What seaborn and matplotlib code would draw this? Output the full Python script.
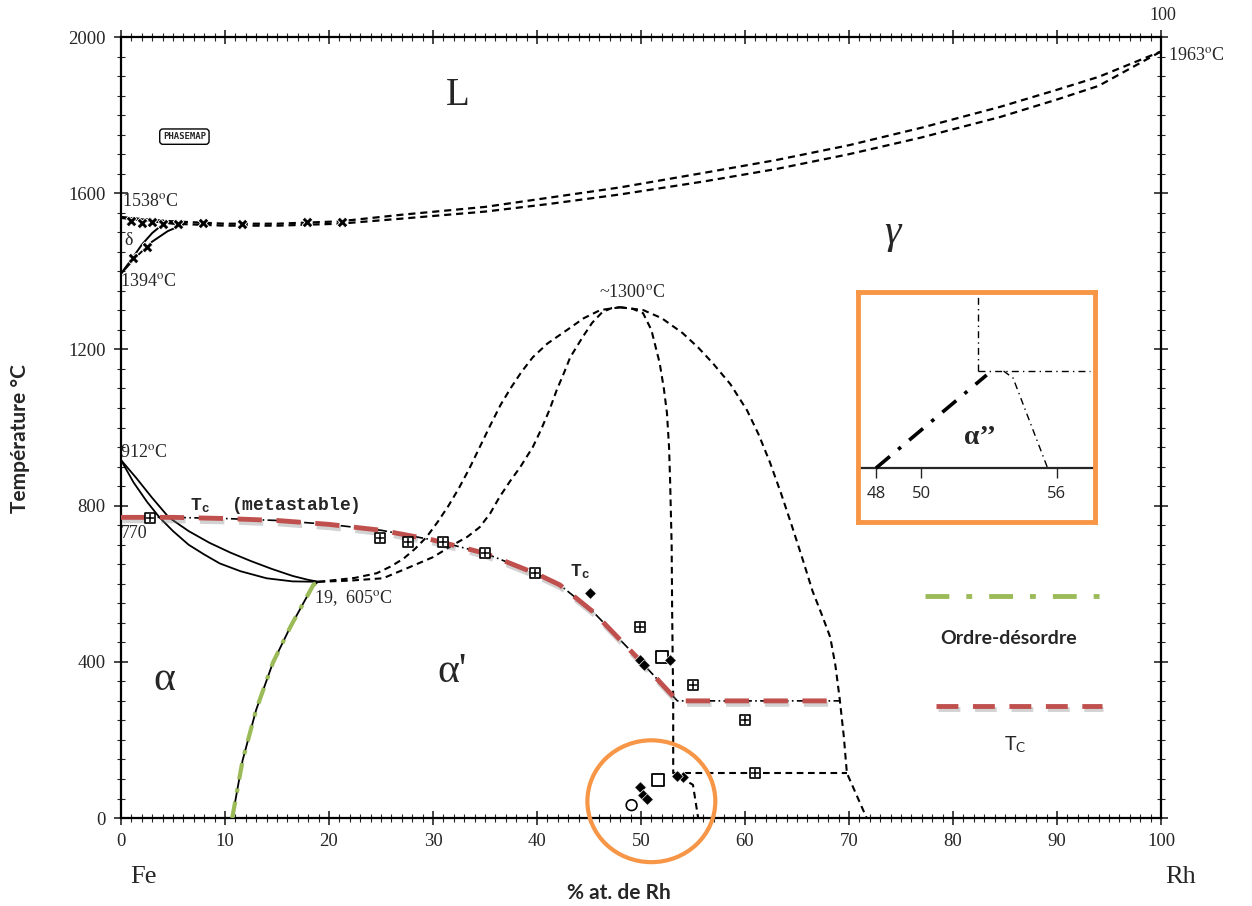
import matplotlib.pyplot as plt
import matplotlib.patheffects as pe
from matplotlib.patches import Ellipse
from matplotlib.ticker import MultipleLocator
import seaborn as sns

# Fe-Rh phase diagram, x = % at. Rh, y = temperature (°C)
liq_x = [0, 5, 10, 15, 21, 27, 35, 41, 48, 56, 63, 70, 77, 84.5, 90, 94, 100]
liq_y = [1538, 1528, 1522, 1522, 1528, 1545, 1565, 1588, 1615, 1652, 1685, 1723, 1768, 1821, 1865, 1898, 1963]
sol_y = [1538, 1522, 1517, 1517, 1522, 1535, 1553, 1572, 1597, 1630, 1662, 1700, 1743, 1795, 1840, 1875, 1963]

delta_top_x = [0, 2, 4, 6]
delta_top_y = [1538, 1532, 1527, 1524]
delta1_x = [0, 1, 2, 3, 4]
delta1_y = [1394, 1430, 1468, 1498, 1520]
delta2_x = [0, 1.5, 3, 4.5, 6]
delta2_y = [1394, 1438, 1476, 1503, 1520]

ag_up_x = [0, 1.5, 3, 4.6, 6.5, 8.5, 10.5, 12.5, 14.5, 16.5, 18, 19]
ag_up_y = [917, 870, 820, 770, 735, 705, 680, 658, 638, 620, 610, 605]
ag_lo_x = [0, 1.2, 2.5, 3.7, 5, 6.5, 8, 9.5, 11.5, 14, 16.5, 19]
ag_lo_y = [917, 860, 810, 770, 735, 700, 675, 652, 632, 614, 606, 605]

dome_out_x = [19, 20.4, 22.5, 24.6, 26, 27.2, 28.3, 29.4, 30.5, 31.5, 32.5, 33.5, 34.5, 35.5,
              36.5, 37.5, 38.5, 39.6, 41, 42.9, 44.5, 46.1, 48]
dome_out_y = [605, 609, 615, 627, 645, 665, 690, 720, 760, 800, 845, 895, 950, 1005,
              1058, 1102, 1142, 1180, 1215, 1250, 1280, 1301, 1308]
dome_in_x = [19, 22, 25.2, 27.8, 30, 31.9, 33.3, 34.5, 35.5, 36.4, 37.4, 38.4, 39.6, 40.4,
             41.2, 41.9, 42.6, 43.2, 44.4, 45.3, 46.3, 47.2, 48]
dome_in_y = [605, 608, 614, 643, 668, 699, 720, 745, 780, 822, 862, 899, 950, 995,
             1045, 1096, 1140, 1180, 1232, 1268, 1296, 1306, 1308]
right_in_x = [48, 49.2, 50.2, 51, 51.8, 52.2, 52.5, 52.7, 52.8, 52.95, 53.0, 53.1, 53.1, 55.0, 55.5]
right_in_y = [1308, 1304, 1293, 1250, 1165, 1100, 1037, 950, 866, 700, 525, 300, 115, 85, 0]
right_out_x = [48, 50.2, 52, 54, 55.5, 56.9, 58.6, 60.2, 61.3, 62.4, 63.5, 64.6, 65.6, 66.5,
               67.4, 68.2, 68.7, 69.1, 69.5, 69.8, 71.7]
right_out_y = [1308, 1301, 1280, 1242, 1205, 1165, 1111, 1044, 983, 911, 829, 741, 658, 581,
               520, 463, 390, 307, 210, 115, 0]
low_h_x = [53.1, 69.8]
low_h_y = [115, 115]

tc_x = [0, 5, 10, 15, 20, 25, 30, 35, 40, 42.2, 45.4, 49.6, 53.5, 69.1]
tc_y = [770, 770, 767, 762, 752, 737, 712, 678, 625, 597, 528, 412, 300, 300]

od_x = [10.7, 11.7, 13.0, 14.6, 16.3, 18.5, 19]
od_y = [0, 148, 277, 397, 490, 597, 605]

sq_x = [2.8, 24.9, 27.6, 31, 35, 39.8, 49.9, 55, 60, 61]
sq_y = [768, 717, 707, 707, 678, 627, 489, 340, 251, 115]
open_x = [52, 51.6]
open_y = [412, 97]
fill_x = [45.1, 49.9, 50.3, 52.8, 49.9, 50.2, 54, 53.5, 50.6]
fill_y = [576, 405, 392, 405, 80, 60, 105, 108, 50]
liqm_x = [1, 2, 3, 4, 5.5, 7.9, 11.6, 17.9, 21.3, 1.2, 2.5]
liqm_y = [1528, 1525, 1527, 1522, 1522, 1524, 1521, 1526, 1526, 1434, 1462]

# inset (zoom on alpha'' region), y in arbitrary units, 0 = base line
in_od_x = [48, 52.9]
in_od_y = [0, 93]
in_v_x = [52.5, 52.5]
in_v_y = [97, 176]
in_h_x = [52.5, 57.5]
in_h_y = [97, 97]
in_s_x = [53.65, 54.07, 55.6]
in_s_y = [97, 90, 0]
in_ticks = [48, 50, 56]

ORANGE = '#F79646'
GREEN = '#9BBB59'
RED = '#C0504D'

sns.set_style("ticks")
plt.rcParams['font.family'] = ['Liberation Serif', 'DejaVu Serif']
plt.rcParams['mathtext.fontset'] = 'stix'

fig = plt.figure(figsize=(12.52, 9.06), dpi=100)
ax = fig.add_axes([0.0966, 0.0971, 0.8307, 0.8620])


def boundary(a, xs, ys, dash=None, lw=1.3, color='black', z=2):
    sns.lineplot(x=xs, y=ys, sort=False, estimator=None, color=color, lw=lw, ax=a, zorder=z)
    line = a.lines[-1]
    if dash is not None:
        line.set_linestyle((0, dash))
    return line


dsh = (3.2, 2.2)
boundary(ax, liq_x, liq_y, dsh, lw=1.6)
boundary(ax, liq_x, sol_y, dsh, lw=1.6)
boundary(ax, delta_top_x, delta_top_y, lw=2.2)
boundary(ax, delta1_x, delta1_y, lw=1.4)
boundary(ax, delta2_x, delta2_y, lw=1.4)
boundary(ax, ag_up_x, ag_up_y, lw=1.3)
boundary(ax, ag_lo_x, ag_lo_y, lw=1.3)
boundary(ax, dome_out_x, dome_out_y, dsh, lw=1.5)
boundary(ax, dome_in_x, dome_in_y, dsh, lw=1.5)
boundary(ax, right_in_x, right_in_y, dsh, lw=1.5)
boundary(ax, right_out_x, right_out_y, dsh, lw=1.5)
boundary(ax, low_h_x, low_h_y, dsh, lw=1.5)
boundary(ax, tc_x, tc_y, (6, 2, 1, 2), lw=1.2)
boundary(ax, od_x, od_y, lw=1.3)

shadow = [pe.SimpleLineShadow(offset=(1, -2.5), shadow_color='gray', alpha=0.35), pe.Normal()]
red = boundary(ax, tc_x, tc_y, (5, 3), lw=3.5, color=RED, z=4)
red.set_path_effects(shadow)
boundary(ax, od_x, od_y, (4, 2.2, 1, 2.2), lw=3, color=GREEN, z=4)

# data markers
sns.scatterplot(x=sq_x, y=sq_y, marker='s', s=55, facecolor='white', edgecolor='black', linewidth=1.2, ax=ax, zorder=5)
sns.scatterplot(x=sq_x, y=sq_y, marker='+', s=40, color='black', linewidth=1.1, ax=ax, zorder=6)
sns.scatterplot(x=open_x, y=open_y, marker='s', s=70, facecolor='white', edgecolor='black', linewidth=1.3, ax=ax, zorder=5)
sns.scatterplot(x=fill_x, y=fill_y, marker='D', s=35, color='black', ax=ax, zorder=5)
sns.scatterplot(x=liqm_x, y=liqm_y, marker='X', s=60, color='black', ax=ax, zorder=5)
sns.scatterplot(x=[49.1], y=[33], marker='o', s=60, facecolor='none', edgecolor='black', linewidth=1.2, ax=ax, zorder=5)

ax.set_xlim(0, 100)
ax.set_ylim(0, 2000)
ax.xaxis.set_major_locator(MultipleLocator(10))
ax.xaxis.set_minor_locator(MultipleLocator(1))
ax.yaxis.set_major_locator(MultipleLocator(400))
ax.yaxis.set_minor_locator(MultipleLocator(50))
ax.tick_params(axis='both', which='both', direction='inout', top=True, right=True, labelsize=13.5, pad=6)
ax.tick_params(axis='both', which='major', length=10, width=1.2)
ax.tick_params(axis='both', which='minor', length=6, width=0.8)
for s in ax.spines.values():
    s.set_linewidth(1.6)
    s.set_color('black')

# region / point labels
ax.text(32.4, 1851, 'L', fontsize=28, ha='center', va='center')
ax.text(74.2, 1500, 'γ', fontsize=30, style='italic', ha='center', va='center')
ax.text(4.2, 353, 'α', fontsize=30, ha='center', va='center')
ax.text(31.8, 374, "α'", fontsize=30, ha='center', va='center')
ax.text(49.1, 1345, '~1300$^{\\rm o}$C', fontsize=13, ha='center', va='center')
ax.text(0.1, 1580, '1538$^{\\rm o}$C', fontsize=13, ha='left', va='center')
ax.text(-0.1, 1375, '1394$^{\\rm o}$C', fontsize=13, ha='left', va='center')
ax.text(0.7, 1478, 'δ', fontsize=13, ha='center', va='center')
ax.text(-0.1, 935, '912$^{\\rm o}$C', fontsize=13, ha='left', va='center')
ax.text(0, 728, '770', fontsize=13, ha='left', va='center')
ax.text(18.6, 563, '19,  605$^{\\rm o}$C', fontsize=13, ha='left', va='center')
ax.text(100.7, 1954, '1963$^{\\rm o}$C', fontsize=13, ha='left', va='center')
ax.text(100.2, 2055, '100', fontsize=13, ha='center', va='center', clip_on=False)
ax.text(6.6, 800, 'T$_\\mathregular{c}$  (metastable)', fontsize=13, family='Liberation Mono',
        weight='bold', ha='left', va='center')
ax.text(43.2, 630, 'T$_\\mathregular{c}$', fontsize=13, family='Liberation Mono', weight='bold',
        ha='left', va='center')
ax.text(6.1, 1745, 'PHASEMAP', fontsize=6.5, family='DejaVu Sans Mono', weight='bold', ha='center',
        va='center', bbox=dict(boxstyle='round,pad=0.35', fc='white', ec='black', lw=1))

# manual legend
boundary(ax, [77.3, 94.3], [568, 568], (4.9, 3.5, 1.2, 3.5), lw=3.5, color=GREEN, z=4)
ax.text(85.3, 461, 'Ordre-désordre', fontsize=14, family='Lato', weight='bold', ha='center', va='center')
leg_red = boundary(ax, [78.4, 94.3], [287, 287], (4.5, 3), lw=3.5, color=RED, z=4)
leg_red.set_path_effects(shadow)
ax.text(86, 187, 'T$_\\mathregular{C}$', fontsize=14, family='Lato', ha='center', va='center')

# highlight circle around the alpha'' region
ax.add_patch(Ellipse((51, 43), 12.3, 312, fill=False, ec=ORANGE, lw=3, clip_on=False, zorder=7))

# axis captions
fig.text(20 / 1252, 1 - 439 / 906, 'Température °C', rotation=90, fontsize=15, family='Lato',
         weight='bold', ha='center', va='center')
fig.text(619 / 1252, 1 - 893 / 906, '% at. de Rh', fontsize=15, family='Lato', weight='bold',
         ha='center', va='center')
fig.text(143 / 1252, 1 - 877 / 906, 'Fe', fontsize=19, ha='center', va='center')
fig.text(1181 / 1252, 1 - 877 / 906, 'Rh', fontsize=19, ha='center', va='center')

# inset
ax_in = fig.add_axes([0.6853, 0.4238, 0.1893, 0.2539])
ax_in.set_xlim(47.2, 57.7)
ax_in.set_ylim(-54, 176)
ax_in.set_xticks([])
ax_in.set_yticks([])
for s in ax_in.spines.values():
    s.set_color(ORANGE)
    s.set_linewidth(3.5)
boundary(ax_in, in_od_x, in_od_y, (5, 3, 1, 3), lw=2.6)
boundary(ax_in, in_v_x, in_v_y, (5, 3, 1, 3), lw=1)
boundary(ax_in, in_h_x, in_h_y, (5, 3, 1, 3), lw=1)
boundary(ax_in, in_s_x, in_s_y, (5, 3, 1, 3), lw=1)
ax_in.text(52.6, 31, 'α’’', fontsize=20, weight='bold', ha='center', va='center')
lo, hi = ax_in.get_ylim()
sec = ax_in.secondary_xaxis((0 - lo) / (hi - lo))
sec.set_xticks(in_ticks)
sec.tick_params(direction='out', length=7, width=1, labelsize=12, pad=6)
for lab in sec.get_xticklabels():
    lab.set_family('Open Sans')
sec.spines['bottom'].set_linewidth(1.6)

fig.savefig('out.png', dpi=100)
